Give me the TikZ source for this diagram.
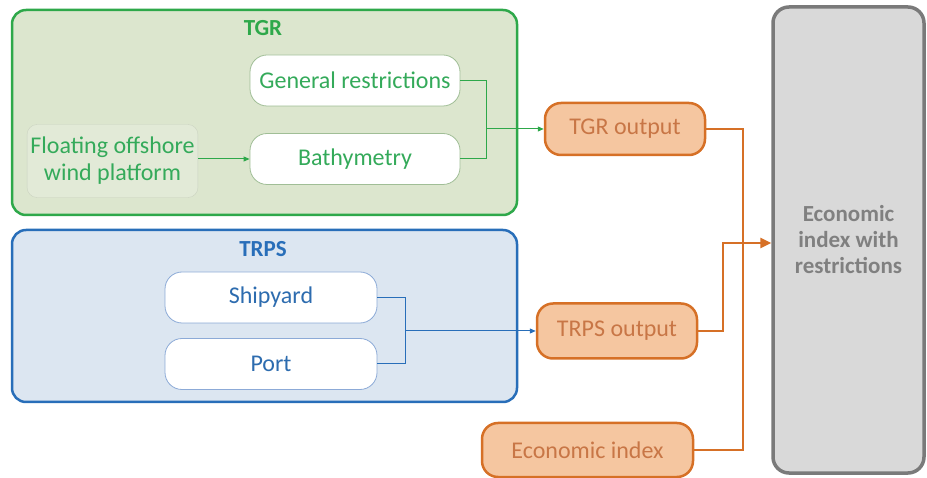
\documentclass[tikz,border=0pt]{standalone}
\usepackage{fontspec}
\setmainfont{Carlito}
\usetikzlibrary{arrows.meta}
\definecolor{tgrline}{RGB}{46,168,74}
\definecolor{tgrfill}{RGB}{220,230,206}
\definecolor{tgrtext}{RGB}{52,170,90}
\definecolor{tgrthin}{RGB}{160,190,150}
\definecolor{floatfill}{RGB}{226,234,215}
\definecolor{trpsline}{RGB}{40,110,185}
\definecolor{trpsfill}{RGB}{220,230,241}
\definecolor{trpstext}{RGB}{45,108,175}
\definecolor{trpsthin}{RGB}{140,170,215}
\definecolor{outline}{RGB}{214,112,38}
\definecolor{outfill}{RGB}{245,198,160}
\definecolor{outtext}{RGB}{200,118,70}
\definecolor{resline}{RGB}{122,122,122}
\definecolor{resfill}{RGB}{217,217,217}
\definecolor{restext}{RGB}{128,128,128}

\begin{document}
\begin{tikzpicture}[x=1pt,y=-1pt,
	every node/.style={font=\fontsize{24}{27}\selectfont},
	group/.style={draw, line width=2.5pt, rounded corners=14pt, inner sep=0pt},
	title/.style={font=\fontsize{23}{27}\selectfont\bfseries},
	inbox/.style={draw, fill=white, line width=0.8pt, rounded corners=17pt, minimum height=51pt},
	outbox/.style={draw=outline, fill=outfill, text=outtext, line width=2.5pt, rounded corners=16pt, minimum height=52pt},
	thin/.style={line width=1pt},
	outarrow/.style={draw=outline, line width=2.5pt}]
	\useasboundingbox (0,0) rectangle (927,478);
	
	% TGR block
	\node[group, draw=tgrline, fill=tgrfill, minimum width=505pt, minimum height=205pt] (tgr) at (264.5,112.5) {};
	\node[title, text=tgrline] (tgrlabel) at (263,28) {TGR};
	\node[inbox, draw=tgrthin, text=tgrtext, minimum width=210pt] (genres) at (355,80.5) {General restrictions};
	\node[inbox, draw=tgrthin, text=tgrtext, minimum width=210pt] (bathy) at (355,159) {Bathymetry};
	\node[draw=floatfill!90!black, fill=floatfill, text=tgrtext, rounded corners=10pt, line width=0.4pt,
		minimum width=169pt, minimum height=73pt, align=center] (float) at (112.5,161) {Floating offshore\\wind platform};
	\coordinate (tgrjoin) at (486,129);
	
	% TRPS block
	\node[group, draw=trpsline, fill=trpsfill, minimum width=505pt, minimum height=172pt] (trps) at (264.5,316) {};
	\node[title, text=trpsline] (trpslabel) at (263,249) {TRPS};
	\node[inbox, draw=trpsthin, text=trpstext, minimum width=212pt] (ship) at (271,297.5) {Shipyard};
	\node[inbox, draw=trpsthin, text=trpstext, minimum width=212pt] (port) at (271,364) {Port};
	\coordinate (trpsjoin) at (405,331);
	
	% outputs
	\node[outbox, minimum width=160pt] (tgrout) at (625,129) {TGR output};
	\node[outbox, minimum width=160pt, minimum height=55pt] (trpsout) at (617,331) {TRPS output};
	\node[outbox, minimum width=211pt, minimum height=54pt] (econ) at (587.5,450) {Economic index};
	\node[draw=resline, fill=resfill, text=restext, line width=3.5pt, rounded corners=16pt,
		minimum width=151pt, minimum height=466pt, align=center, font=\fontsize{23}{26}\selectfont\bfseries] (result) at (848.5,240)
		{Economic\\index with\\restrictions};
	\coordinate (spinebot) at (743,450);
	\coordinate (merge) at (723,243);
	
	% connectors
	\draw[thin, tgrline, -{Triangle[length=6pt,width=5pt]}] (float.east |- bathy.west) -- (bathy.west);
	\draw[thin, tgrline] (genres.east) -| (tgrjoin);
	\draw[thin, tgrline] (bathy.east) -| (tgrjoin);
	\draw[thin, tgrline, -{Triangle[length=6pt,width=5pt]}] (tgrjoin) -- (tgrout.west);
	\draw[thin, trpsline] (ship.east) -| (trpsjoin);
	\draw[thin, trpsline] (port.east) -| (trpsjoin);
	\draw[thin, trpsline, -{Triangle[length=6pt,width=5pt]}] (trpsjoin) -- (trpsout.west);
	\draw[outarrow] (tgrout.east) -| (spinebot) -- (econ.east);
	\draw[outarrow, -{Triangle[length=11pt,width=10pt]}] (trpsout.east) -| (merge) -- (merge -| result.west);
\end{tikzpicture}
\end{document}
